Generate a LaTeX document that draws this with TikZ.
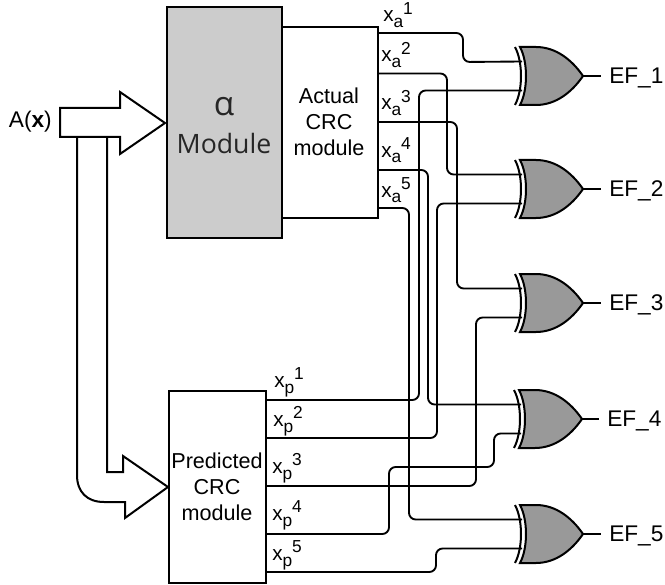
\documentclass[tikz,border=0pt]{standalone}
\usepackage{fontspec}
\setmainfont{Liberation Sans}
\newfontfamily\modfont{Open Sans}
\tikzset{
  wire/.style={draw=black,line width=1.4pt,rounded corners=5pt},
  blockbox/.style={draw=black,line width=1.5pt},
  txt/.style={inner sep=0pt,font=\fontsize{16.2}{19.5}\selectfont,align=center,text=black},
  sublab/.style={inner sep=0pt,font=\fontsize{15.5}{18}\selectfont,anchor=base west},
  eflab/.style={inner sep=0pt,font=\fontsize{17}{18}\selectfont,anchor=west},
  xorbody/.style={draw=black,line width=1.5pt,fill=gatefill},
  xorback/.style={draw=black,line width=1.5pt},
}
\definecolor{gatefill}{HTML}{999999}
\definecolor{modfill}{HTML}{CCCCCC}
\newcommand{\xorgate}[3]{% name, left x, mid y
  \draw[xorbody] (#2+0,#3-29) .. controls (#2+8,#3-14) and (#2+8,#3+14) .. (#2+0,#3+29)
    -- (#2+16,#3+29) .. controls (#2+36,#3+29) and (#2+52,#3+16) .. (#2+63,#3)
    .. controls (#2+52,#3-16) and (#2+36,#3-29) .. (#2+16,#3-29) -- cycle;
  \draw[xorback] (#2-5,#3-29) .. controls (#2+3,#3-14) and (#2+3,#3+14) .. (#2-5,#3+29);
  \coordinate (#1a) at (#2+2,#3-14.5);
  \coordinate (#1b) at (#2+2,#3+14.5);
  \coordinate (#1o) at (#2+63,#3);
}
\newcommand{\xlab}[2]{x\raisebox{-4.5pt}{\fontsize{13}{13}\selectfont #1}\raisebox{5.5pt}{\fontsize{13}{13}\selectfont #2}}
\begin{document}
\begin{tikzpicture}[x=0.75pt,y=-0.75pt]
\useasboundingbox (0,0) rectangle (665,585);
% blocks
\node[blockbox,fill=modfill,minimum width=115*0.75pt,minimum height=231*0.75pt,inner sep=0pt,anchor=north west] (alpha) at (166,6) {};
\node[blockbox,fill=white,minimum width=96*0.75pt,minimum height=191*0.75pt,inner sep=0pt,anchor=north west] (actual) at (281,26) {};
\node[blockbox,fill=white,minimum width=97*0.75pt,minimum height=192*0.75pt,inner sep=0pt,anchor=north west] (pred) at (168,390) {};
\node[inner sep=0pt,font=\modfont\fontsize{25}{25}\selectfont,text=black!85] (alphatxt) at (224,107) {α};
\node[inner sep=0pt,font=\modfont\fontsize{20}{22}\selectfont,text=black!85] (modtxt) at (224,144) {Module};
\node[txt] (actualtxt) at (329,122) {Actual\\CRC\\module};
\node[txt] (predtxt) at (217,487) {Predicted\\CRC\\module};
% bus arrows
\draw[blockbox,fill=white,line join=miter,rounded corners=0pt] (77,137) -- (77,475) .. controls (77,492) and (87,502) .. (104,502) -- (125,502) -- (125,518) -- (168,487) -- (123,456) -- (123,472) -- (107,472) -- (107,137);
\draw[blockbox,fill=white,line join=miter] (60,108) -- (120,108) -- (120,92) -- (165,123) -- (120,154) -- (120,137) -- (60,137) -- cycle;
\node[txt,anchor=east,font=\fontsize{17}{20}\selectfont] (ax) at (52,122) {A(\textbf{x})};
% gates
\xorgate{g1}{520}{76}
\xorgate{g2}{520}{189}
\xorgate{g3}{520}{303}
\xorgate{g4}{519}{419}
\xorgate{g5}{520}{534}
% source coordinates
\coordinate (a1) at (377,33);
\coordinate (a2) at (377,73.5);
\coordinate (a3) at (377,122);
\coordinate (a4) at (377,170);
\coordinate (a5) at (377,208);
\coordinate (p1) at (265,400);
\coordinate (p2) at (265,438);
\coordinate (p3) at (265,486);
\coordinate (p4) at (265,534);
\coordinate (p5) at (265,572);
% wires
\draw[wire] (a1) -| (463,62) -- (g1a);
\draw[wire] (a2) -| (447,174.5) -- (g2a);
\draw[wire] (a3) -| (457,288.5) -- (g3a);
\draw[wire] (a4) -| (428,404.5) -- (g4a);
\draw[wire] (a5) -| (409,519.5) -- (g5a);
\draw[wire] (p1) -| (419,90.5) -- (g1b);
\draw[wire] (p2) -| (437,203.5) -- (g2b);
\draw[wire] (p3) -| (476,317.5) -- (g3b);
\draw[wire] (p4) -| (389,467) -| (494,433.5) -- (g4b);
\draw[wire] (p5) -| (436,548.5) -- (g5b);
% outputs
\foreach \i/\y/\ex in {1/76/609,2/189/609,3/303/609,4/419/607,5/534/609}{
  \node[eflab] (ef\i) at (\ex,\y+2) {EF\_\i};
  \draw[black,line width=1.4pt] (g\i o) -- (\ex-8,\y);
}
% labels
\node[sublab] (la1) at (383,22) {\xlab{a}{1}};
\node[sublab] (la2) at (381,62) {\xlab{a}{2}};
\node[sublab] (la3) at (381,110) {\xlab{a}{3}};
\node[sublab] (la4) at (381,157) {\xlab{a}{4}};
\node[sublab] (la5) at (381,197) {\xlab{a}{5}};
\node[sublab] (lp1) at (274,387) {\xlab{p}{1}};
\node[sublab] (lp2) at (273,426) {\xlab{p}{2}};
\node[sublab] (lp3) at (272,473) {\xlab{p}{3}};
\node[sublab] (lp4) at (272,520) {\xlab{p}{4}};
\node[sublab] (lp5) at (272,560) {\xlab{p}{5}};
\end{tikzpicture}
\end{document}
